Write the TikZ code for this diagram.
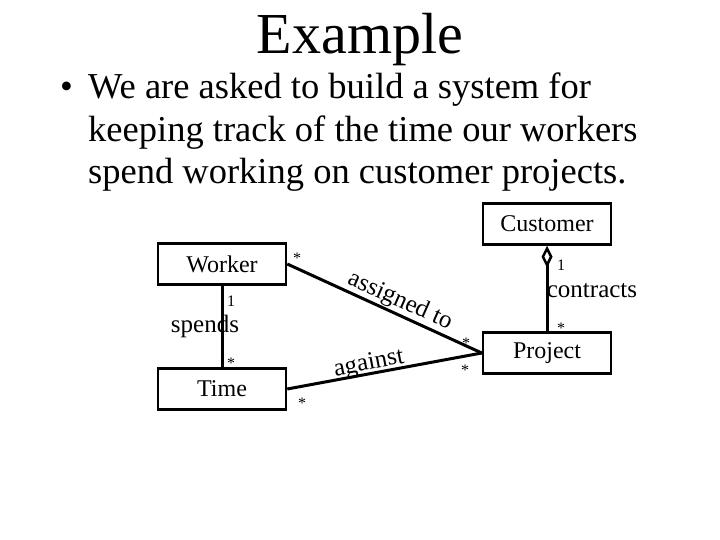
\documentclass[tikz,border=0pt]{standalone}
\usepackage{fontspec}
\setmainfont{Liberation Serif}
\usetikzlibrary{arrows.meta}
\begin{document}
\begin{tikzpicture}[x=1pt,y=-1pt]
\tikzset{cls/.style = {draw, line width=2.5pt, minimum width=128pt, minimum height=41pt, inner sep=0pt, font=\fontsize{24}{26}\selectfont}}
\tikzset{assoc/.style = {line width=3pt}}
\tikzset{mult/.style = {font=\fontsize{16}{18}\selectfont, inner sep=1pt}}
\tikzset{role/.style = {font=\fontsize{25}{27}\selectfont, inner sep=0pt}}
\useasboundingbox (0,0) rectangle (720,540);
\node (title) at (360,40) {\fontsize{58}{62}\selectfont Example};
\node[anchor=north west, align=left, inner sep=0pt, font=\fontsize{36.5}{42.5}\selectfont] (intro) at (60,73)
  {\makebox[28pt][l]{•}We are asked to build a system for\\
   \hspace*{28pt}keeping track of the time our workers\\
   \hspace*{28pt}spend working on customer projects.};
\node[cls] (worker) at (222,264) {Worker};
\node[cls] (time) at (222,389) {Time};
\node[cls] (customer) at (547,224) {Customer};
\node[cls] (project) at (547,353) {Project};
\draw[assoc] (worker) -- (time);
\draw[assoc] (worker.east) -- (project.west);
\draw[assoc] (time.east) -- (project.west);
\draw[assoc, {Diamond[open, length=22pt, width=11pt, line width=2.5pt]}-] (customer) -- (project);
\node[mult] (m1) at (297,258) {*};
\node[mult] (m2) at (466,343) {*};
\node[mult] (m3) at (465,370) {*};
\node[mult] (m4) at (302,403) {*};
\node[mult] (m5) at (231,301) {1};
\node[mult] (m6) at (231,363) {*};
\node[mult] (m7) at (561,265) {1};
\node[mult] (m8) at (561,328) {*};
\node[role] (spends) at (205,326) {spends};
\node[role, rotate=-24] (assigned) at (400,301) {assigned to};
\node[role, rotate=11] (against) at (369,364) {against};
\node[role] (contracts) at (592,291) {contracts};
\end{tikzpicture}
\end{document}
